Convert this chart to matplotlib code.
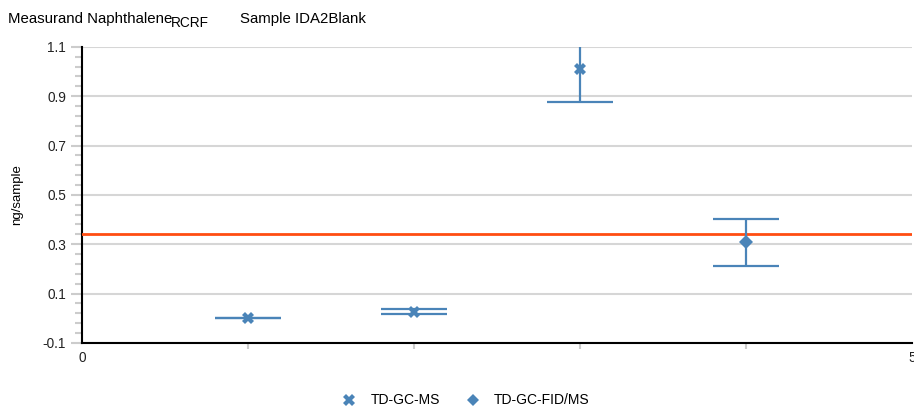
import numpy as np
import matplotlib.pyplot as plt
from matplotlib.lines import Line2D

plt.rcParams['font.family'] = ['Liberation Sans', 'DejaVu Sans']

# data
ms_x = [1, 2, 3]
ms_y = [0.0, 0.027, 1.009]
ms_err = [0.0, 0.010, 0.133]
fid_x = [4]
fid_y = [0.308]
fid_err = [0.095]
ref_value = 0.34

blue = '#4a84b8'
red = '#ff4d12'

fig = plt.figure(figsize=(9.14, 4.12), dpi=100)
ax = fig.add_axes([0.0897, 0.1675, 0.908, 0.719])

ax.axhline(ref_value, color=red, lw=2, zorder=3)

# error bars first, markers on top
ax.errorbar(ms_x, ms_y, yerr=ms_err, fmt='none', ecolor=blue,
            elinewidth=1.6, capsize=24, capthick=1.6, zorder=4)
ax.errorbar(fid_x, fid_y, yerr=fid_err, fmt='none', ecolor=blue,
            elinewidth=1.6, capsize=24, capthick=1.6, zorder=4)
ax.plot(ms_x, ms_y, ls='none', marker='X', color=blue, ms=8, mew=0, zorder=5)
ax.plot(fid_x, fid_y, ls='none', marker='D', color=blue, ms=7, mew=0, zorder=5)

ax.set_xlim(0, 5)
ax.set_ylim(-0.1, 1.1)
ax.set_yticks(np.arange(-0.1, 1.11, 0.2))
ax.set_yticklabels(['-0.1', '0.1', '0.3', '0.5', '0.7', '0.9', '1.1'])
ax.set_yticks(np.arange(-0.1, 1.11, 0.04), minor=True)
ax.set_xticks([0, 5])
ax.set_xticklabels(['0', '5'])
ax.set_xticks([1, 2, 3, 4], minor=True)
ax.tick_params(axis='both', which='both', colors='#cccccc', labelcolor='#222222',
               labelsize=9.8, width=1.5)
ax.tick_params(axis='y', which='major', length=8)
ax.tick_params(axis='y', which='minor', length=5)
ax.tick_params(axis='x', which='major', length=0, pad=6)
ax.tick_params(axis='x', which='minor', length=4)

ax.grid(axis='y', which='major', color='#d6d6d6', lw=1.5)
ax.set_axisbelow(True)
for s in ['top', 'right']:
    ax.spines[s].set_visible(False)
for s in ['left', 'bottom']:
    ax.spines[s].set_color('black')
    ax.spines[s].set_linewidth(1.5)

ax.set_ylabel('ng/sample', fontsize=9.5)
ax.yaxis.set_label_coords(-0.071, 0.5)

# header: measurand with subscript, then sample name
fig.text(0.009, 0.938, 'Measurand Naphthalene', fontsize=10.8, va='bottom')
fig.text(0.187, 0.928, 'RCRF', fontsize=9.8, va='bottom')
fig.text(0.263, 0.938, 'Sample IDA2Blank', fontsize=10.8, va='bottom')

handles = [Line2D([], [], ls='none', marker='X', color=blue, ms=8, mew=0),
           Line2D([], [], ls='none', marker='D', color=blue, ms=6, mew=0)]
fig.legend(handles, ['TD-GC-MS', 'TD-GC-FID/MS'], loc='center',
           bbox_to_anchor=(0.506, 0.028), ncol=2, frameon=False, fontsize=10,
           handletextpad=0.5, columnspacing=1.4)

fig.savefig('out.png', dpi=100)
